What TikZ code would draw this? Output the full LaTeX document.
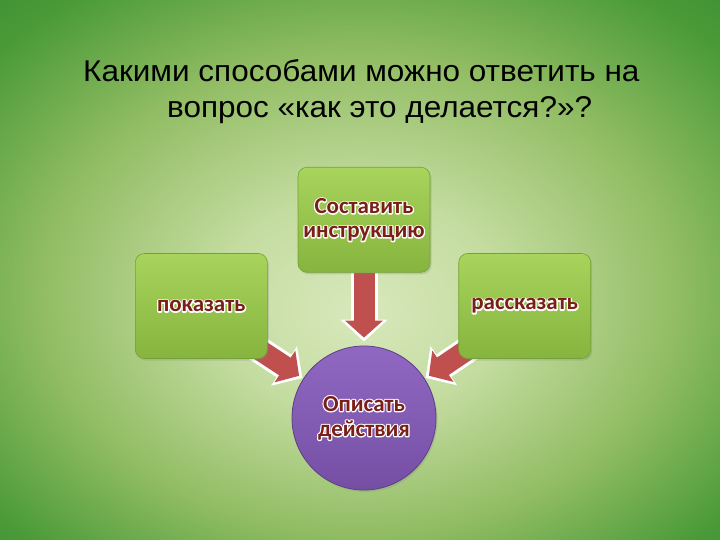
\documentclass[tikz,border=0pt]{standalone}
\usepackage{fontspec}
\setmainfont{Liberation Sans}[FakeStretch=1.05]
\newfontfamily\boxfont{Carlito}
\usetikzlibrary{shapes,arrows.meta,positioning,calc,shadows}
\usepackage{xcolor}

\definecolor{bgcentre}{HTML}{D8E8BC}
\definecolor{bgmid}{HTML}{C4DCA0}
\definecolor{bgtitle}{HTML}{92BD64}
\definecolor{bgside}{HTML}{4A9A38}
\definecolor{bgcorner}{HTML}{2A7F26}
\definecolor{boxtop}{HTML}{A8D45C}
\definecolor{boxbottom}{HTML}{86B43E}
\definecolor{boxedge}{HTML}{74A236}
\definecolor{circtop}{HTML}{9068C2}
\definecolor{circbottom}{HTML}{754FA4}
\definecolor{circedge}{HTML}{5E3E88}
\definecolor{arrowred}{HTML}{C0504D}
\definecolor{labelred}{HTML}{7A1E18}

\pgfdeclareradialshading{slideglow}{\pgfpoint{0bp}{-4bp}}{%
  color(0bp)=(bgcentre); color(10bp)=(bgmid); color(22bp)=(bgtitle);
  color(33bp)=(bgside); color(46bp)=(bgcorner); color(50bp)=(bgcorner)}

\pgfdeclarelayer{bg}
\pgfdeclarelayer{arrowlayer}
\pgfsetlayers{bg,arrowlayer,main}

% white rim round a line of label text
\newcommand\haloline[1]{\rlap{\color{white}\special{pdf:literal direct 1 j 2.4 w 1 Tr}#1\special{pdf:literal direct 0 Tr}}#1}

\tikzset{
  stepbox/.style={draw=boxedge,line width=0.6pt,rounded corners=9pt,top color=boxtop,bottom color=boxbottom,
    minimum width=132pt,minimum height=105pt,align=center,text=labelred,
    font=\boxfont\bfseries\fontsize{23}{24}\selectfont,
    drop shadow={opacity=0.25,shadow xshift=1.5pt,shadow yshift=-2pt}},
  arrowrim/.style={white,line width=27pt,-{Triangle[length=22pt,width=46pt]}},
  arrowbody/.style={arrowred,line width=21pt,-{Triangle[length=17pt,width=37pt]}}
}

\begin{document}
\begin{tikzpicture}[x=1pt,y=-1pt]
\useasboundingbox (0,0) rectangle (720,540);
\begin{pgfonlayer}{bg}
  \path[shading=slideglow] (0,0) rectangle (720,540);
\end{pgfonlayer}

\node[anchor=north west,inner sep=0pt,align=left,font=\fontsize{30}{36}\selectfont] (title) at (83,59.5)
  {Какими способами можно ответить на\\\hspace*{84pt}вопрос «как это делается?»?};

\node[circle,draw=circedge,line width=0.8pt,top color=circtop,bottom color=circbottom,minimum size=144pt,
  align=center,text=labelred,font=\boxfont\bfseries\fontsize{23}{25}\selectfont,
  drop shadow={opacity=0.25,shadow xshift=1.5pt,shadow yshift=-2pt}] (desc) at (364,418)
  {\haloline{Описать}\\\haloline{действия}};
\node[stepbox,above=73pt of desc] (instr) {\haloline{Составить}\\\haloline{инструкцию}};
\node[stepbox,left=24pt of desc,yshift=112pt] (show) {\haloline{показать}};
\node[stepbox,right=22pt of desc,yshift=112pt] (tell) {\haloline{рассказать}};

\begin{pgfonlayer}{arrowlayer}
  \coordinate (showtail) at ($(show.south east)+(-28,-22)$);
  \coordinate (telltail) at ($(tell.south west)+(28,-22)$);
  \draw[arrowrim,shorten >=4pt] (instr.south) -- (desc.north);
  \draw[arrowbody,shorten >=8pt] (instr.south) -- (desc.north);
  \draw[arrowrim,shorten >=1pt] (showtail) -- (desc.147);
  \draw[arrowbody,shorten >=5pt] (showtail) -- (desc.147);
  \draw[arrowrim,shorten >=1pt] (telltail) -- (desc.33);
  \draw[arrowbody,shorten >=5pt] (telltail) -- (desc.33);
\end{pgfonlayer}
\end{tikzpicture}
\end{document}
